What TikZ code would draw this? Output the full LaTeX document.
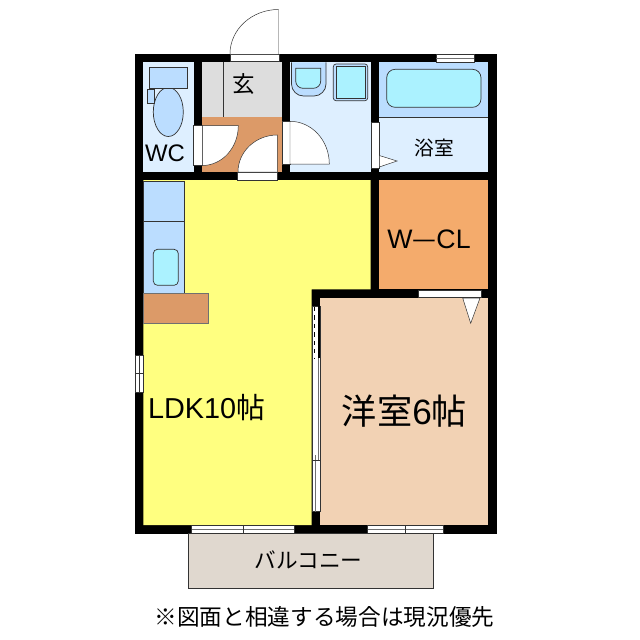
\documentclass[tikz,border=0pt]{standalone}
\usepackage{fontspec}
\setmainfont{Liberation Sans}
\newfontfamily\cjk{Noto Sans CJK JP}
\usepackage{xcolor}
\usepackage{tikz}
\definecolor{wetblue}{HTML}{DEEFFF}
\definecolor{fixblue}{HTML}{BBDDFF}
\definecolor{waterblue}{HTML}{ABF2FF}
\definecolor{ldkyellow}{HTML}{FFFF80}
\definecolor{floorbrown}{HTML}{DC9A68}
\definecolor{closetorange}{HTML}{F4AB6C}
\definecolor{roombeige}{HTML}{F2D2B4}
\definecolor{entrygrey}{HTML}{DDDDDD}
\definecolor{balconygrey}{HTML}{E0D8CF}
\definecolor{linegrey}{HTML}{333333}
\tikzset{
	wallfill/.style={fill=black,draw=none},
	fixture/.style={draw=linegrey,line width=0.5pt},
	opening/.style={fill=white,draw=linegrey,line width=0.35pt},
	sashline/.style={draw=linegrey!70,line width=0.6pt},
	roomlabel/.style={inner sep=0pt,text=black}
}
\begin{document}
\begin{tikzpicture}[x=0.025cm,y=-0.025cm]
	\useasboundingbox (0,0) rectangle (640,640);
	\fill[white] (0,0) rectangle (640,640);
	\fill[wallfill] (135,54) rectangle (497,533.5);
	\fill[wetblue] (143.3,62.3) rectangle (193.5,171.5);
	\fill[entrygrey] (202.3,62.3) rectangle (282,116.7);
	\fill[floorbrown] (202.3,116.7) rectangle (282,171.5);
	\fill[wetblue] (290,62.3) rectangle (370.7,171.5);
	\fill[wetblue] (379.3,62.3) rectangle (488.3,171.5);
	\fill[fixblue] (379.3,62.3) rectangle (488.3,117.3);
	\draw[linegrey,line width=0.5pt] (379.3,117.3)--(488.3,117.3);
	\fill[ldkyellow] (143.3,180)--(370.7,180)--(370.7,289.3)--(311.7,289.3)--(311.7,525)--(143.3,525)--cycle;
	\fill[closetorange] (379.3,180) rectangle (488.3,289.3);
	\fill[roombeige] (320,298.3) rectangle (488.3,525);
	\fill[balconygrey,draw=linegrey,line width=0.5pt] (188.3,533.5) rectangle (433.7,588);
	\draw[fixture,fill=fixblue] (143.3,181.7) rectangle (184.7,221.7);
	\draw[fixture,fill=fixblue] (143.3,221.7) rectangle (184.7,295);
	\draw[fixture,fill=waterblue,rounded corners=3] (153.3,249.3) rectangle (178.3,285.3);
	\draw[draw=linegrey!70,line width=0.4pt,fill=floorbrown] (143.3,293.5) rectangle (208,323.3);
	\draw[fixture,fill=fixblue] (168.3,112) ellipse (15 and 24.5);
	\draw[fixture,fill=fixblue] (149.7,67.7) rectangle (187.3,88.3);
	\draw[fixture,fill=fixblue] (147.7,89.3) rectangle (154,103.3);
	\draw[linegrey,line width=0.5pt] (223.7,62.3)--(223.7,116.7);
	\draw[fixture,fill=fixblue] (291.5,62.3)--(291.5,84) arc (180:90:12) -- (314,96) arc (90:0:12) -- (326,62.3);
	\draw[fixture,fill=waterblue] (295.7,68.3)--(295.7,81) arc (180:90:7.3) -- (313.4,88.3) arc (90:0:7.3) -- (320.7,68.3)--cycle;
	\draw[fixture,fill=fixblue,rounded corners=2] (333.3,64) rectangle (367.7,100.7);
	\draw[fixture,fill=waterblue] (336,66) rectangle (365.5,98.7);
	\draw[fixture,fill=waterblue,rounded corners=6] (386.7,69.3) rectangle (481,107.3);
	\draw[opening] (230,54) rectangle (279,61.5);
	\draw[opening] (278.5,54)--(278.5,9.5) arc (-90:-180:48.5 and 44.5);
	\draw[opening] (193.5,125.7) rectangle (202.3,165.5);
	\draw[opening] (202.3,165.5)--(202.3,125.7)--(238.3,125.7) arc (0:90:36 and 39.8)--cycle;
	\draw[opening] (237.3,172) rectangle (277.3,180);
	\draw[opening] (238,172)--(277.3,172)--(277.3,135) arc (-90:-180:39.3 and 37);
	\draw[opening] (282.5,121.3) rectangle (290,164);
	\draw[opening] (290,164)--(290,121.3) arc (-90:0:39.3 and 42.7) -- cycle;
	\draw[opening] (371,122.7) rectangle (379.3,168.3);
	\draw[opening] (379.3,155.5)--(397,161)--(379.3,167)--cycle;
	\draw[opening] (418.3,290) rectangle (481,297.5);
	\draw[opening] (462.7,298)--(470.7,323.3)--(480,298)--cycle;
	\draw[opening] (436,54.5) rectangle (474,61.8);
	\draw[sashline] (436,58.2)--(474,58.2);
	\draw[opening] (135,355) rectangle (143,392);
	\draw[linegrey,line width=0.4pt] (139,355)--(139,392);
	\draw[linegrey,line width=0.4pt] (135,373)--(143,373);
	\draw[opening] (312,306.7) rectangle (320,511.7);
	\draw[line width=0.5pt,dashed] (314.5,307)--(314.5,358);
	\fill[black] (318,298)--(320,298)--(320,358)--(318,358)--cycle;
	\draw[sashline] (318,358)--(318,460.7);
	\draw[sashline] (315,455)--(315,511.7);
	\draw[linegrey,line width=0.5pt] (312,460.7)--(320,460.7);
	\draw[opening] (191.7,525.3) rectangle (294.3,533);
	\draw[sashline] (191.7,529)--(294.3,529);
	\draw[linegrey,line width=0.4pt] (243.3,525.3)--(243.3,533);
	\draw[opening] (367.7,525.3) rectangle (443.3,533);
	\draw[sashline] (367.7,529)--(443.3,529);
	\draw[linegrey,line width=0.4pt] (405.7,525.3)--(405.7,533);
	\node[roomlabel,font=\fontsize{17}{17}\selectfont] (wc) at (165,153.5) {WC};
	\node[roomlabel,font=\cjk\fontsize{16}{16}\selectfont] (entry) at (243.5,84.5) {玄};
	\node[roomlabel,font=\cjk\fontsize{14}{14}\selectfont] (bath) at (434,148) {浴室};
	\node[roomlabel,font=\fontsize{19}{19}\selectfont] (closet) at (429,239) {W\cjk{}—\rmfamily CL};
	\node[roomlabel,font=\fontsize{20.5}{20.5}\selectfont] (ldk) at (206.5,408) {LDK10\cjk 帖};
	\node[roomlabel,font=\cjk\fontsize{25}{25}\selectfont] (room) at (404.5,411.5) {洋室\rmfamily 6\cjk 帖};
	\node[roomlabel,font=\cjk\fontsize{15.4}{15.4}\selectfont] (balcony) at (308.5,560) {バルコニー};
	\node[roomlabel,font=\cjk\fontsize{16.1}{16.1}\selectfont] (note) at (324.5,617) {※図面と相違する場合は現況優先};
\end{tikzpicture}
\end{document}
